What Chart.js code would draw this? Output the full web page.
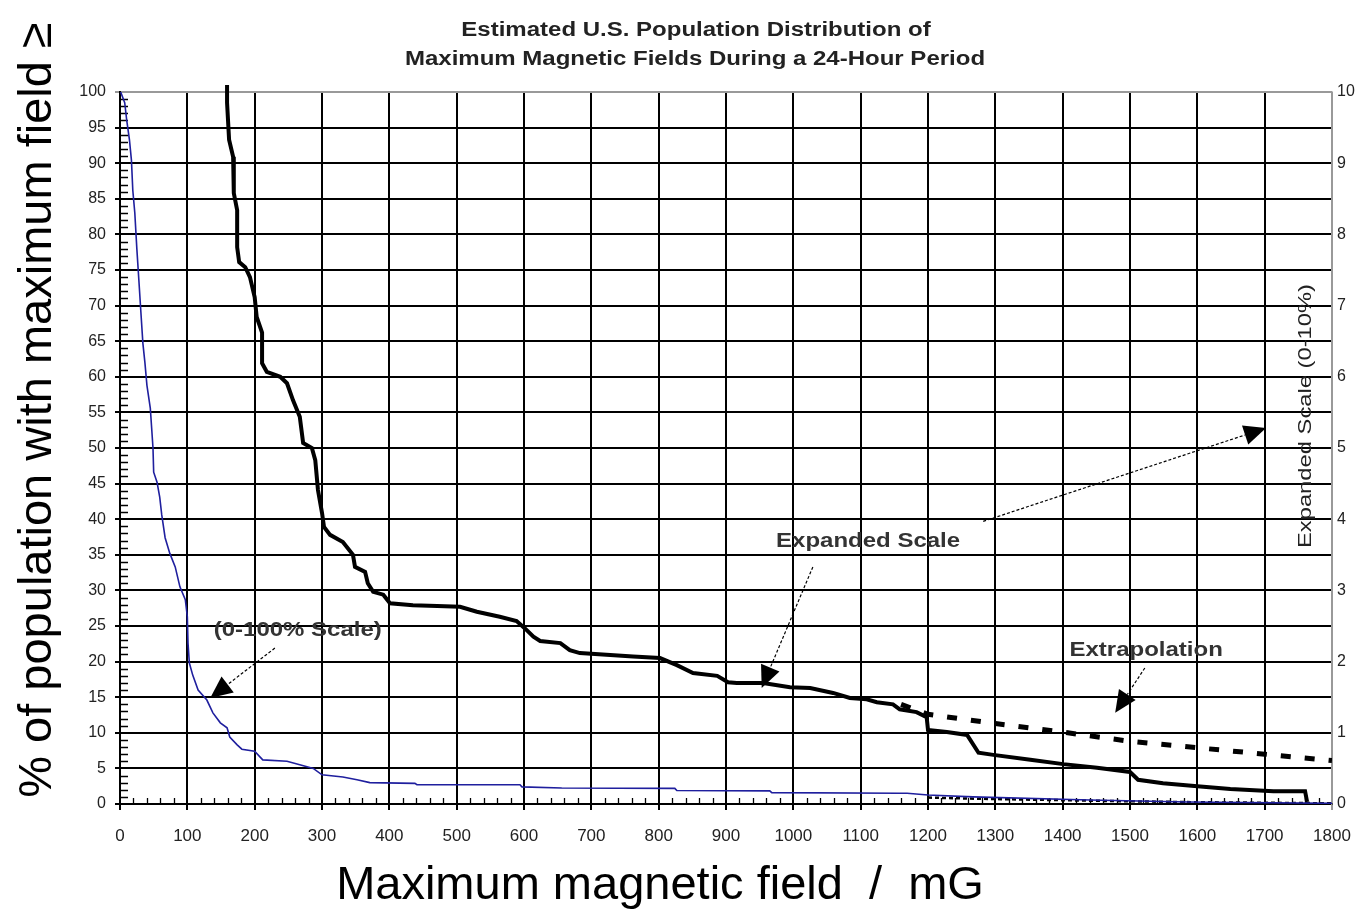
<!DOCTYPE html>
<html>
<head>
<meta charset="utf-8">
<script src="https://cdn.jsdelivr.net/npm/chart.js@4.4.0/dist/chart.umd.min.js"></script>
<style>
  html, body { margin: 0; padding: 0; background: #fff; }
  canvas { display: block; }
</style>
</head>
<body>
<canvas id="chart" width="1360" height="913"></canvas>
<script>
// 0-100% scale curve (left axis)
const blueX = [1, 7, 10, 14, 17, 19, 22, 25, 28, 31, 34, 37, 40, 45, 47, 49, 50, 55, 59, 62, 67, 74, 82, 89, 97, 100, 101, 103, 108, 116, 129, 138, 149, 159, 163, 174, 181, 200, 212, 248, 267, 287, 300, 331, 352, 371, 438, 441, 594, 597, 656, 824, 827, 965, 968, 1158, 1169, 1200, 1267, 1440, 1585, 1800];
const blueY = [100, 98.5, 96, 93.3, 90.4, 86.2, 83, 78, 73.6, 69.1, 64.7, 62, 58.8, 55.6, 52.8, 50, 46.6, 45.2, 43.1, 40.6, 37.4, 35.2, 33.3, 30.5, 28.7, 26.3, 22.6, 19.8, 18.1, 16, 14.6, 12.8, 11.4, 10.7, 9.4, 8.3, 7.7, 7.4, 6.2, 6.0, 5.5, 5.0, 4.1, 3.8, 3.4, 3.0, 2.9, 2.7, 2.7, 2.4, 2.25, 2.2, 1.9, 1.85, 1.6, 1.5, 1.5, 1.26, 1.0, 0.56, 0.28, 0.1];

// expanded scale curve (right axis, 0-10%)
const blackX = [159, 159, 162, 168, 169, 174, 174, 177, 186, 193, 200, 203, 211, 211, 218, 238, 248, 257, 267, 272, 285, 290, 294, 300, 303, 312, 331, 346, 349, 364, 368, 376, 391, 401, 435, 471, 505, 530, 564, 589, 601, 614, 624, 654, 668, 683, 762, 802, 827, 851, 887, 903, 916, 955, 995, 1025, 1059, 1084, 1109, 1124, 1148, 1158, 1183, 1198, 1200, 1228, 1258, 1275, 1297, 1352, 1401, 1451, 1500, 1512, 1549, 1600, 1649, 1713, 1760, 1763];
const blackY = [10.1, 9.85, 9.33, 9.09, 8.58, 8.34, 7.82, 7.61, 7.54, 7.40, 7.12, 6.84, 6.62, 6.19, 6.07, 6.00, 5.91, 5.67, 5.44, 5.07, 5.00, 4.83, 4.41, 4.09, 3.89, 3.78, 3.68, 3.50, 3.33, 3.26, 3.10, 2.98, 2.94, 2.82, 2.79, 2.78, 2.77, 2.70, 2.63, 2.57, 2.47, 2.35, 2.29, 2.26, 2.16, 2.12, 2.07, 2.05, 1.95, 1.84, 1.80, 1.71, 1.70, 1.70, 1.64, 1.63, 1.56, 1.49, 1.47, 1.43, 1.40, 1.33, 1.29, 1.22, 1.04, 1.01, 0.97, 0.72, 0.69, 0.62, 0.56, 0.51, 0.45, 0.34, 0.29, 0.25, 0.21, 0.18, 0.18, 0.03];

// extrapolation on expanded scale
const extraX = [1160, 1200, 1300, 1400, 1500, 1600, 1700, 1800];
const extraY = [1.40, 1.26, 1.13, 1.01, 0.88, 0.79, 0.70, 0.61];

// extrapolation on 0-100% scale
const extraLowX = [1200, 1270, 1450, 1600, 1800];
const extraLowY = [0.9, 0.75, 0.45, 0.25, 0.1];

const xTicks = { min: 0, max: 1800, step: 100 };
const leftTicks = { min: 0, max: 100, step: 5 };
const rightTicks = { min: 0, max: 10, step: 1 };

const FONT = "'Liberation Sans', Arial, sans-serif";

function pts(xs, ys) {
    return xs.map((x, i) => ({ x: x, y: ys[i] }));
}

// text drawn a little wider than the font, like the original
function wideText(c, txt, x, y, sx, rot) {
    c.save();
    c.translate(x, y);
    if (rot) c.rotate(rot);
    c.scale(sx, 1);
    c.fillText(txt, 0, 0);
    c.restore();
}

// texts, arrows and minor ticks
const extrasPlugin = {
    id: 'extras',
    beforeDatasetsDraw(chart) {
        const c = chart.ctx;
        const sx = chart.scales.x, sy = chart.scales.y;
        c.save();
        c.strokeStyle = '#000';
        c.lineWidth = 1.3;
        c.beginPath();
        for (let v = 1; v < 100; v++) {
            if (v % 5 === 0) continue;
            const py = Math.round(sy.getPixelForValue(v)) + 0.5;
            c.moveTo(sx.left, py);
            c.lineTo(sx.left + 8, py);
        }
        for (let v = 20; v < 1800; v += 20) {
            if (v % 100 === 0) continue;
            const px = Math.round(sx.getPixelForValue(v)) + 0.5;
            c.moveTo(px, sy.bottom);
            c.lineTo(px, sy.bottom - 6);
        }
        c.stroke();
        c.restore();
    },
    afterDraw(chart) {
        const c = chart.ctx;
        const sx = chart.scales.x, sy = chart.scales.y;
        const X = v => sx.getPixelForValue(v);
        const Y = v => sy.getPixelForValue(v);
        c.save();

        // chart title
        c.fillStyle = '#222';
        c.textAlign = 'center';
        c.textBaseline = 'middle';
        c.font = 'bold 20px ' + FONT;
        wideText(c, 'Estimated U.S. Population Distribution of', 696, 30, 1.2);
        wideText(c, 'Maximum Magnetic Fields During a 24-Hour Period', 695, 59, 1.2);

        // axis titles
        c.fillStyle = '#000';
        c.font = '47px ' + FONT;
        c.fillText('Maximum magnetic field  /  mG', 660, 886);
        c.save();
        c.translate(38, 410);
        c.rotate(-Math.PI / 2);
        c.fillText('% of population with maximum field \u2265', 0, 0);
        c.restore();

        c.fillStyle = '#222';
        c.font = '19px ' + FONT;
        wideText(c, 'Expanded Scale (0-10%)', 1306, 416, 1.25, -Math.PI / 2);

        // annotations
        c.fillStyle = '#333';
        c.font = 'bold 20px ' + FONT;
        wideText(c, '(0-100% Scale)', X(264), Y(24.4), 1.2);
        wideText(c, 'Expanded Scale', X(1111), Y(36.9), 1.2);
        wideText(c, 'Extrapolation', X(1524), Y(21.5), 1.2);

        function arrow(x0, y0, x1, y1) {
            const ax = X(x0), ay = Y(y0), bx = X(x1), by = Y(y1);
            const ang = Math.atan2(by - ay, bx - ax);
            const len = 22, half = 10;
            const hx = bx - len * Math.cos(ang), hy = by - len * Math.sin(ang);
            c.save();
            c.strokeStyle = '#000';
            c.lineWidth = 1.2;
            c.setLineDash([3, 2]);
            c.beginPath();
            c.moveTo(ax, ay);
            c.lineTo(hx, hy);
            c.stroke();
            c.setLineDash([]);
            c.fillStyle = '#000';
            c.beginPath();
            c.moveTo(bx, by);
            c.lineTo(hx + half * Math.sin(ang), hy - half * Math.cos(ang));
            c.lineTo(hx - half * Math.sin(ang), hy + half * Math.cos(ang));
            c.closePath();
            c.fill();
            c.restore();
        }
        arrow(230, 21.9, 134, 14.9);
        arrow(1029, 33.3, 953, 16.3);
        arrow(1282, 39.7, 1702, 52.8);
        arrow(1522, 19.1, 1478, 12.8);

        c.restore();
    }
};

const gridColor = (edge) => (ctx) => (ctx.tick && ctx.tick.value === edge ? '#999' : '#000');

const config = {
    type: 'line',
    data: {
        datasets: [
            {
                label: '0-100% Scale',
                data: pts(blueX, blueY),
                yAxisID: 'y',
                borderColor: '#1f1f9e',
                borderWidth: 1.6,
                pointRadius: 0,
                tension: 0
            },
            {
                label: 'Expanded Scale',
                data: pts(blackX, blackY),
                yAxisID: 'y1',
                borderColor: '#000',
                borderWidth: 4,
                pointRadius: 0,
                tension: 0,
                clip: { left: 0, top: 12, right: 0, bottom: 0 }
            },
            {
                label: 'Extrapolation',
                data: pts(extraX, extraY),
                yAxisID: 'y1',
                borderColor: '#000',
                borderWidth: 5,
                borderDash: [10, 14],
                pointRadius: 0,
                tension: 0
            },
            {
                label: 'Extrapolation (0-100%)',
                data: pts(extraLowX, extraLowY),
                yAxisID: 'y',
                borderColor: '#000',
                borderWidth: 2.5,
                borderDash: [4, 3],
                pointRadius: 0,
                tension: 0
            }
        ]
    },
    options: {
        responsive: false,
        animation: false,
        layout: { padding: { top: 92 } },
        plugins: {
            legend: { display: false },
            tooltip: { enabled: false }
        },
        scales: {
            x: {
                type: 'linear',
                min: xTicks.min,
                max: xTicks.max,
                ticks: {
                    stepSize: xTicks.step, color: '#222', font: { family: FONT, size: 17 },
                    padding: 16, maxRotation: 0, callback: v => String(v)
                },
                grid: { color: gridColor(1800), lineWidth: 2, tickLength: 6 },
                border: { color: '#000', width: 2 },
                afterFit: s => {
                    s.height = 109;
                    s.paddingLeft = 0;
                    s.paddingRight = 0;
                }
            },
            y: {
                position: 'left',
                min: leftTicks.min,
                max: leftTicks.max,
                ticks: { stepSize: leftTicks.step, color: '#222', font: { family: FONT, size: 16 }, padding: 9 },
                grid: { color: gridColor(100), lineWidth: 2, tickLength: 5 },
                border: { color: '#000', width: 2 },
                afterFit: s => { s.width = 120; }
            },
            y1: {
                position: 'right',
                min: rightTicks.min,
                max: rightTicks.max,
                ticks: { stepSize: rightTicks.step, color: '#222', font: { family: FONT, size: 16 }, padding: 5 },
                grid: { display: false, drawTicks: false },
                border: { color: '#999', width: 1.5 },
                afterFit: s => { s.width = 28; }
            }
        }
    },
    plugins: [extrasPlugin]
};

const ctx = document.getElementById('chart').getContext('2d');
new Chart(ctx, config);
</script>
</body>
</html>
